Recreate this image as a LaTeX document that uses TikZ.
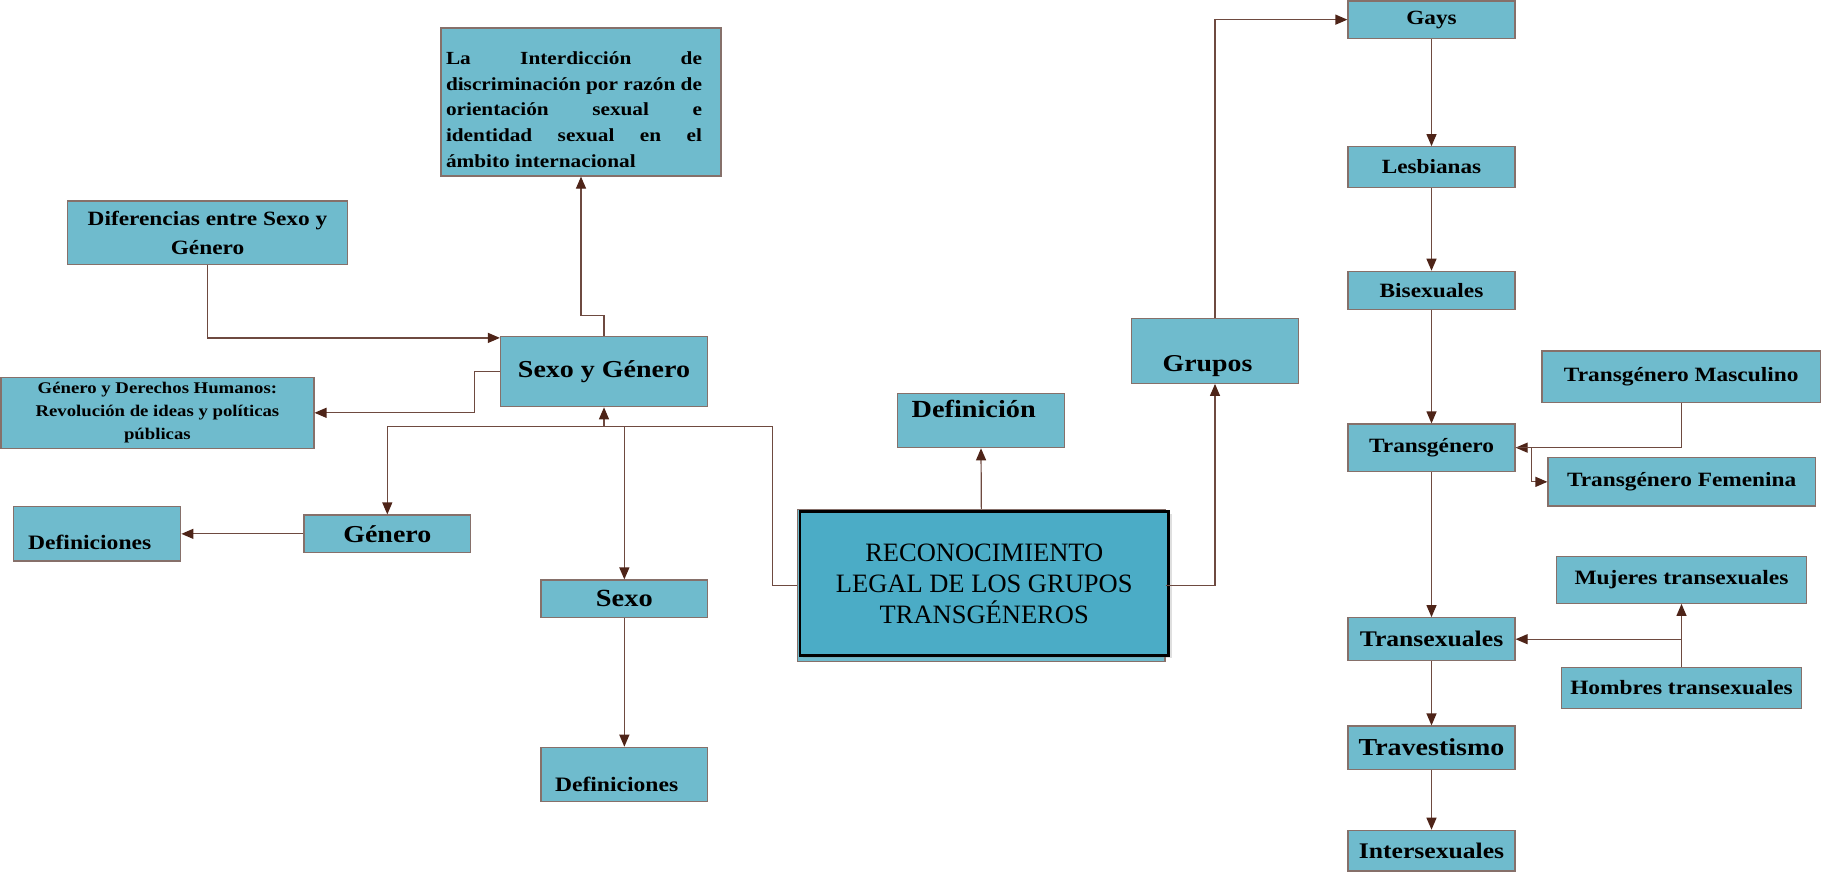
\documentclass[tikz,border=0pt]{standalone}
\usepackage{fontspec}
\setmainfont{Liberation Serif}
\newfontfamily\bsf{Liberation Serif}[FakeStretch=1.15]
\usetikzlibrary{arrows.meta,shadows}
\newcommand\myfs[2]{\fontsize{#1}{#2}\selectfont}
\definecolor{boxfill}{HTML}{6FBBCD}
\definecolor{boxline}{HTML}{86706A}
\definecolor{lnc}{HTML}{6E4A40}
\definecolor{tipc}{HTML}{4E2418}
\definecolor{cfill}{HTML}{4BACC6}
\tikzset{
  box/.style={draw=boxline, line width=1.2pt, fill=boxfill, inner sep=0pt, align=center, text=black},
  bt/.style={font=\bsf\bfseries\myfs{#1}{#1}},
  lab/.style={inner sep=0pt, align=center, text=black},
  arr/.style={draw=lnc, line width=1.2pt, -{Triangle[length=12pt,width=10pt,color=tipc]}},
}
\begin{document}
\begin{tikzpicture}[x=1pt,y=-1pt]
\useasboundingbox (0,0) rectangle (1821,873);

% left part
\node[box, minimum width=280pt, minimum height=148pt,
  label={[lab, align=left, font=\bsf\bfseries\myfs{18.5}{25.7}, xshift=-7pt, yshift=-7.4pt]center:{\makebox[256pt][s]{La Interdicción de}\\\makebox[256pt][s]{discriminación por razón de}\\\makebox[256pt][s]{orientación sexual e}\\\makebox[256pt][s]{identidad sexual en el}\\ámbito internacional}}]
  (inter) at (581,102) {};
\node[box, minimum width=280pt, minimum height=63.3pt, font=\bsf\bfseries\myfs{20.3}{28.7}]
  (dif) at (207.5,232.7) {Diferencias entre Sexo y\\Género};
\node[box, minimum width=207pt, minimum height=70.2pt, bt=24.35]
  (syg) at (604,371.6) {Sexo y Género};
\node[box, minimum width=313pt, minimum height=71pt, font=\bsf\bfseries\myfs{16.3}{23}]
  (gdh) at (157.4,412.8) {Género y Derechos Humanos:\\Revolución de ideas y políticas\\públicas};
\node[box, minimum width=166.8pt, minimum height=37.7pt, bt=24.3]
  (genero) at (387.3,533.85) {Género};
\node[box, minimum width=167.2pt, minimum height=54.3pt,
  label={[lab, bt=20.5, xshift=-7.5pt, yshift=-9pt]center:Definiciones}]
  (def1) at (97.2,533.85) {};
\node[box, minimum width=166.7pt, minimum height=37.7pt, bt=24.7]
  (sexo) at (624.35,598.85) {Sexo};
\node[box, minimum width=166.7pt, minimum height=54.4pt,
  label={[lab, bt=20.5, xshift=-7.7pt, yshift=-9.5pt]center:Definiciones}]
  (def2) at (624.35,774.5) {};

% centre
\node[box, minimum width=166.6pt, minimum height=54.4pt,
  label={[lab, bt=24.6, xshift=-7.3pt, yshift=11.2pt]center:Definición}]
  (defn) at (981,420.5) {};
\node[box, minimum width=367.3pt, minimum height=152pt] (centralbg) at (981.35,585.5) {};
\node[draw=black, line width=2.6pt, fill=cfill, inner sep=0pt, align=center,
  minimum width=368.5pt, minimum height=144pt, font=\myfs{26.5}{31},
  drop shadow={shadow xshift=3pt, shadow yshift=-2pt, opacity=0.25}]
  (central) at (984.25,583.75) {RECONOCIMIENTO\\LEGAL DE LOS GRUPOS\\TRANSGÉNEROS};
\node[box, minimum width=166.6pt, minimum height=65pt,
  label={[lab, bt=24.2, xshift=-7.5pt, yshift=-15pt]center:Grupos}]
  (grupos) at (1215,350.8) {};

% right column
\node[box, minimum width=167pt, minimum height=37.3pt, bt=20.2] (gays) at (1431.5,19.65) {Gays};
\node[box, minimum width=167pt, minimum height=40.6pt, bt=20.2] (lesb) at (1431.5,167) {Lesbianas};
\node[box, minimum width=167pt, minimum height=38pt, bt=20.3] (bisex) at (1431.5,290.3) {Bisexuales};
\node[box, minimum width=167pt, minimum height=47.3pt, bt=20.3] (transg) at (1431.5,447.65) {Transgénero};
\node[box, minimum width=278.5pt, minimum height=51.3pt, bt=20.3] (tmasc) at (1681.2,376.65) {Transgénero Masculino};
\node[box, minimum width=267.3pt, minimum height=48.3pt, bt=20.3] (tfem) at (1681.65,481.85) {Transgénero Femenina};
\node[box, minimum width=250.4pt, minimum height=46.6pt, bt=20.4] (mujeres) at (1681.5,580) {Mujeres transexuales};
\node[box, minimum width=167pt, minimum height=43pt, bt=22.3] (transex) at (1431.5,639.2) {Transexuales};
\node[box, minimum width=240.4pt, minimum height=40.6pt, bt=20.35] (hombres) at (1681.5,688) {Hombres transexuales};
\node[box, minimum width=167pt, minimum height=43.3pt, bt=24.35] (trav) at (1431.5,747.65) {Travestismo};
\node[box, minimum width=167pt, minimum height=40.7pt, bt=22.3] (inters) at (1431.5,850.65) {Intersexuales};

% connectors
\draw[arr] (dif.south) |- ([yshift=-2pt]syg.north west);
\draw[arr] (syg.north) -- ++(0,-20.8) -| (inter.south);
\draw[arr] (syg.west) -- ++(-25.3,0) |- (gdh.east);
\coordinate (bus) at (604,426.7);
\draw[arr] (centralbg.west) -- ++(-25,0) |- (bus) -- (syg.south);
\draw[arr] (bus) -| (genero.north);
\draw[arr] (bus -| sexo.north) -- (sexo.north);
\draw[arr] (genero.west) -- (def1.east);
\draw[arr] (sexo.south) -- (def2.north);
\draw[arr] (centralbg.north) -- (defn.south);
\draw[arr] (centralbg.east) -| (grupos.south);
\draw[arr] (grupos.north) |- (gays.west);
\draw[arr] (gays.south) -- (lesb.north);
\draw[arr] (lesb.south) -- (bisex.north);
\draw[arr] (bisex.south) -- (transg.north);
\draw[arr] (transg.south) -- (transex.north);
\draw[arr] (transex.south) -- (trav.north);
\draw[arr] (trav.south) -- (inters.north);
\draw[arr] (tmasc.south) |- (transg.east);
\draw[arr] (transg.east) -- ++(15.7,0) |- (tfem.west);
\draw[arr] (hombres.north) -- (mujeres.south);
\draw[arr] (hombres.north) |- (transex.east);
\end{tikzpicture}
\end{document}
